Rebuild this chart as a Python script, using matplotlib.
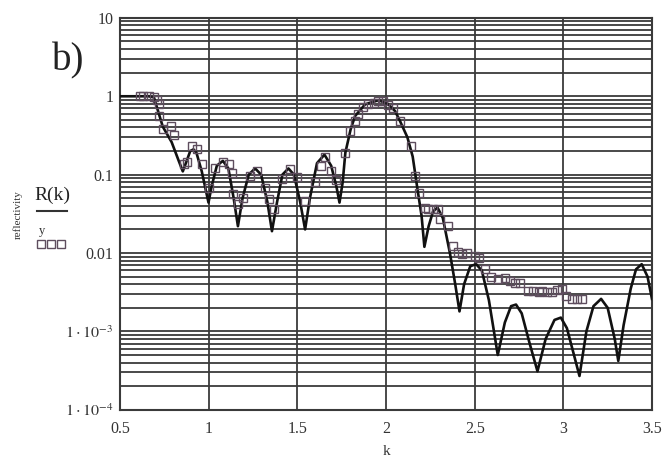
import numpy as np
import matplotlib
matplotlib.use("Agg")
import matplotlib.pyplot as plt
from matplotlib.ticker import FixedLocator, LogLocator, NullFormatter

plt.rcParams['font.family'] = ['Liberation Serif', 'DejaVu Serif']
plt.rcParams['mathtext.fontset'] = 'stix'

# calculated reflectivity R(k)
k_calc = [0.50, 0.60, 0.66, 0.69, 0.714, 0.74, 0.79, 0.83, 0.853, 0.875, 0.895, 0.913,
          0.93, 0.96, 0.985, 0.998, 1.015, 1.045, 1.079, 1.11, 1.14, 1.164, 1.19, 1.225,
          1.261, 1.295, 1.33, 1.356, 1.385, 1.415, 1.449, 1.48, 1.515, 1.543, 1.57, 1.61,
          1.652, 1.69, 1.72, 1.737, 1.755, 1.77, 1.80, 1.825, 1.882, 1.957, 2.01, 2.05,
          2.079, 2.12, 2.15, 2.175, 2.20, 2.216, 2.24, 2.265, 2.29, 2.32, 2.36, 2.39,
          2.414, 2.44, 2.475, 2.508, 2.54, 2.58, 2.63, 2.67, 2.705, 2.733, 2.765, 2.81,
          2.854, 2.90, 2.95, 2.986, 3.02, 3.06, 3.091, 3.13, 3.17, 3.213, 3.25, 3.29,
          3.31, 3.34, 3.38, 3.41, 3.442, 3.475, 3.50]
R_calc = [1.0, 1.0, 1.0, 0.97, 0.64, 0.41, 0.26, 0.15, 0.11, 0.15, 0.20, 0.21,
          0.19, 0.11, 0.06, 0.044, 0.07, 0.13, 0.15, 0.12, 0.05, 0.022, 0.05, 0.10,
          0.12, 0.10, 0.045, 0.019, 0.045, 0.10, 0.12, 0.10, 0.045, 0.020, 0.05, 0.14,
          0.18, 0.13, 0.07, 0.044, 0.08, 0.19, 0.38, 0.56, 0.79, 0.89, 0.80, 0.65,
          0.48, 0.30, 0.17, 0.07, 0.03, 0.012, 0.022, 0.034, 0.038, 0.028, 0.010, 0.004,
          0.0018, 0.004, 0.0068, 0.0072, 0.006, 0.0025, 0.0005, 0.0013, 0.0021, 0.0022, 0.0017, 0.0007,
          0.00031, 0.0008, 0.0014, 0.0015, 0.0011, 0.0005, 0.00027, 0.0010, 0.0021, 0.0026, 0.002, 0.0008,
          0.00042, 0.0012, 0.0035, 0.0062, 0.0072, 0.005, 0.0026]

# measured reflectivity y
k_meas = [0.613, 0.631, 0.660, 0.688, 0.705, 0.716, 0.720, 0.744, 0.788, 0.806, 0.857, 0.876,
          0.904, 0.932, 0.964, 1.002, 1.032, 1.079, 1.111, 1.13, 1.139, 1.167, 1.195, 1.233,
          1.271, 1.314, 1.337, 1.365, 1.412, 1.459, 1.497, 1.543, 1.60, 1.634, 1.656, 1.69,
          1.715, 1.77, 1.797, 1.825, 1.844, 1.869, 1.90, 1.929, 1.957, 1.985, 2.013, 2.041,
          2.079, 2.141, 2.164, 2.188, 2.22, 2.239, 2.262, 2.295, 2.305, 2.352, 2.376, 2.408,
          2.43, 2.459, 2.502, 2.526, 2.559, 2.592, 2.634, 2.671, 2.70, 2.728, 2.756, 2.803,
          2.83, 2.86, 2.878, 2.906, 2.935, 2.963, 2.991, 3.016, 3.048, 3.076, 3.104]
R_meas = [1.0, 1.0, 1.0, 0.98, 0.90, 0.79, 0.56, 0.38, 0.42, 0.32, 0.136, 0.145,
          0.23, 0.21, 0.136, 0.068, 0.12, 0.147, 0.136, 0.106, 0.056, 0.042, 0.051, 0.097,
          0.112, 0.068, 0.049, 0.036, 0.088, 0.117, 0.092, 0.046, 0.08, 0.13, 0.166, 0.112,
          0.085, 0.19, 0.36, 0.48, 0.59, 0.72, 0.79, 0.83, 0.86, 0.86, 0.78, 0.70,
          0.48, 0.23, 0.097, 0.059, 0.038, 0.036, 0.036, 0.036, 0.027, 0.022, 0.0124, 0.0102,
          0.0098, 0.010, 0.0091, 0.0086, 0.0063, 0.0050, 0.0046, 0.0048, 0.0044, 0.0042, 0.0042, 0.0033,
          0.0033, 0.0032, 0.0033, 0.0032, 0.0032, 0.0034, 0.0035, 0.0028, 0.0026, 0.0026, 0.0026]

x_ticks = [0.5, 1, 1.5, 2, 2.5, 3, 3.5]
x_labels = ["0.5", "1", "1.5", "2", "2.5", "3", "3.5"]
y_ticks = [1e-4, 1e-3, 1e-2, 1e-1, 1, 10]
y_labels = [r"$1\cdot10^{-4}$", r"$1\cdot10^{-3}$", "0.01", "0.1", "1", "10"]

grid_col = "#3a3a3a"
sq_col = "#5e4d5e"

fig = plt.figure(figsize=(6.68, 4.71), dpi=100)
ax = fig.add_axes([0.180, 0.130, 0.796, 0.832])

ax.set_yscale("log")
ax.set_xlim(0.5, 3.5)
ax.set_ylim(1e-4, 10)

ax.plot(k_calc, R_calc, color="#111111", lw=1.9, zorder=3)
ax.plot(k_meas, R_meas, ls="none", marker="s", ms=5.2, mfc="none",
        mec=sq_col, mew=1.0, zorder=4)

ax.xaxis.set_major_locator(FixedLocator(x_ticks))
ax.set_xticklabels(x_labels)
ax.yaxis.set_major_locator(FixedLocator(y_ticks))
ax.set_yticklabels(y_labels)
ax.yaxis.set_minor_locator(LogLocator(base=10, subs=np.arange(2, 10)))
ax.yaxis.set_minor_formatter(NullFormatter())

ax.grid(True, which="major", axis="x", color=grid_col, lw=1.3)
ax.grid(True, which="both", axis="y", color=grid_col, lw=1.3)
ax.tick_params(which="both", length=0, labelsize=11.5, colors="#333333")
ax.tick_params(axis="x", pad=8)
ax.tick_params(axis="y", pad=5)
for s in ax.spines.values():
    s.set_color(grid_col)
    s.set_linewidth(1.5)

ax.set_xlabel("k", fontsize=11, color="#333333", labelpad=6)

# label block on the left
fig.text(0.078, 0.87, "b)", fontsize=28, color="#222222", ha="left", va="center")
fig.text(0.027, 0.545, "reflectivity", fontsize=8, rotation=90,
         ha="center", va="center", color="#333333")
fig.text(0.052, 0.585, "R(k)", fontsize=14, ha="left", va="center", color="#222222")
fig.add_artist(plt.Line2D([0.056, 0.101], [0.552, 0.552], color="#333333", lw=1.5))
fig.text(0.058, 0.51, "y", fontsize=9, ha="left", va="center", color="#333333")
fig.add_artist(plt.Line2D([0.062, 0.077, 0.092], [0.481, 0.481, 0.481], ls="none",
                          marker="s", ms=5.5, mfc="none", mec=sq_col, mew=1.0))

fig.savefig("out.png", dpi=100)
